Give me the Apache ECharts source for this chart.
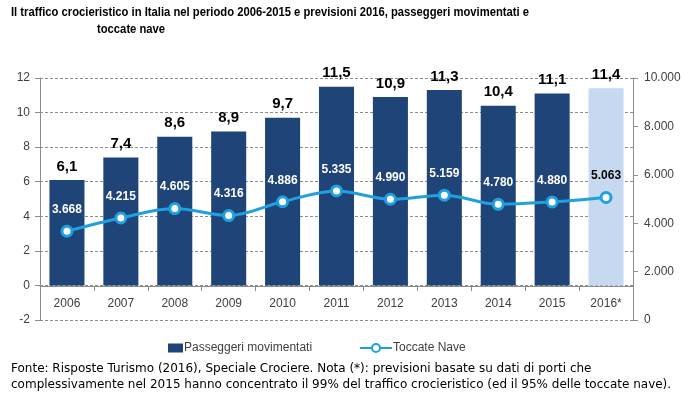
<!DOCTYPE html>
<html>
<head>
<meta charset="utf-8">
<script src="https://cdn.jsdelivr.net/npm/echarts@6/dist/echarts.min.js"></script>
<style>
  html, body { margin: 0; padding: 0; background: #fff; }
  #chart { width: 695px; height: 399px; }
</style>
</head>
<body>
<div id="chart"></div>
<script>
const years = ['2006', '2007', '2008', '2009', '2010', '2011', '2012', '2013', '2014', '2015', '2016*'];
const passengers = [6.1, 7.4, 8.6, 8.9, 9.7, 11.5, 10.9, 11.3, 10.4, 11.1, 11.4];
const shipCalls = [3668, 4215, 4605, 4316, 4886, 5335, 4990, 5159, 4780, 4880, 5063];

const darkBlue = '#1f4477';
const lightBlue = '#c6d9f0';
const lineBlue = '#1fa0df';
const font = 'Liberation Sans';

function dotThousands(v) {
  return String(v).replace(/\B(?=(\d{3})+(?!\d))/g, '.');
}

const chart = echarts.init(document.getElementById('chart'));

// titolo un po' compresso in orizzontale, come il font condensato originale
const titleFont = 'bold 13px "Liberation Sans", sans-serif';

chart.setOption({
  animation: false,
  textStyle: { fontFamily: font },
  grid: { left: 40, right: 62, top: 78, bottom: 79 },
  graphic: [
    { type: 'text', x: 11, y: 6, scaleX: 0.865, style: { text: 'Il traffico crocieristico in Italia nel periodo 2006-2015 e previsioni 2016, passeggeri movimentati e', font: titleFont, fill: '#000' } },
    { type: 'text', x: 97, y: 23, scaleX: 0.865, style: { text: 'toccate nave', font: titleFont, fill: '#000' } },
    { type: 'text', left: 11, top: 363, style: { text: 'Fonte: Risposte Turismo (2016), Speciale Crociere. Nota (*): previsioni basate su dati di porti che', font: '12px "DejaVu Sans", sans-serif', fill: '#000' } },
    { type: 'text', left: 11, top: 379, style: { text: 'complessivamente nel 2015 hanno concentrato il 99% del traffico crocieristico (ed il 95% delle toccate nave).', font: '12px "DejaVu Sans", sans-serif', fill: '#000' } }
  ],
  legend: [
    {
      left: 163, top: 337, data: ['Passeggeri movimentati'],
      itemWidth: 15, itemHeight: 9, icon: 'rect',
      textStyle: { color: '#404040', fontSize: 12, padding: [0, 0, 0, -4] }
    },
    {
      left: 354, top: 337, data: ['Toccate Nave'],
      itemWidth: 32, itemHeight: 10,
      textStyle: { color: '#404040', fontSize: 12, padding: [0, 0, 0, -4] }
    }
  ],
  xAxis: {
    type: 'category',
    data: years,
    offset: -34,
    axisLine: { onZero: false, lineStyle: { color: '#8c8c8c' } },
    axisTick: { show: true, length: 5, lineStyle: { color: '#8c8c8c' } },
    axisLabel: { color: '#404040', fontSize: 12, margin: 12 }
  },
  yAxis: [
    {
      type: 'value', min: -2, max: 12, interval: 2,
      axisLine: { show: true, lineStyle: { color: '#8c8c8c' } },
      axisTick: { show: true, length: 5, lineStyle: { color: '#8c8c8c' } },
      axisLabel: { color: '#404040', fontSize: 12, margin: 10 },
      splitLine: { lineStyle: { color: '#8c8c8c', type: [3, 2] } }
    },
    {
      type: 'value', min: 0, max: 10000, interval: 2000,
      axisLine: { show: true, lineStyle: { color: '#8c8c8c' } },
      axisTick: { show: true, length: 5, lineStyle: { color: '#8c8c8c' } },
      axisLabel: { color: '#404040', fontSize: 12, margin: 11, formatter: dotThousands },
      splitLine: { show: false }
    }
  ],
  series: [
    {
      name: 'Passeggeri movimentati',
      type: 'bar',
      barWidth: '65%',
      itemStyle: { color: darkBlue },
      data: passengers.map((v, i) => i === passengers.length - 1
        ? { value: v, itemStyle: { color: lightBlue } }
        : v),
      label: {
        show: true, position: 'top', distance: 6,
        color: '#000', fontWeight: 'bold', fontSize: 15,
        formatter: p => p.value.toFixed(1).replace('.', ',')
      }
    },
    {
      name: 'Toccate Nave',
      type: 'line',
      yAxisIndex: 1,
      smooth: 0.35,
      symbol: 'circle',
      symbolSize: 10,
      lineStyle: { color: lineBlue, width: 3 },
      itemStyle: { color: '#fff', borderColor: lineBlue, borderWidth: 3 },
      data: shipCalls.map((v, i) => i === shipCalls.length - 1
        ? { value: v, label: { color: '#000' } }
        : v),
      label: {
        show: true, position: 'top', distance: 9,
        color: '#fff', fontWeight: 'bold', fontSize: 12,
        formatter: p => dotThousands(p.value)
      }
    }
  ]
});
</script>
</body>
</html>
